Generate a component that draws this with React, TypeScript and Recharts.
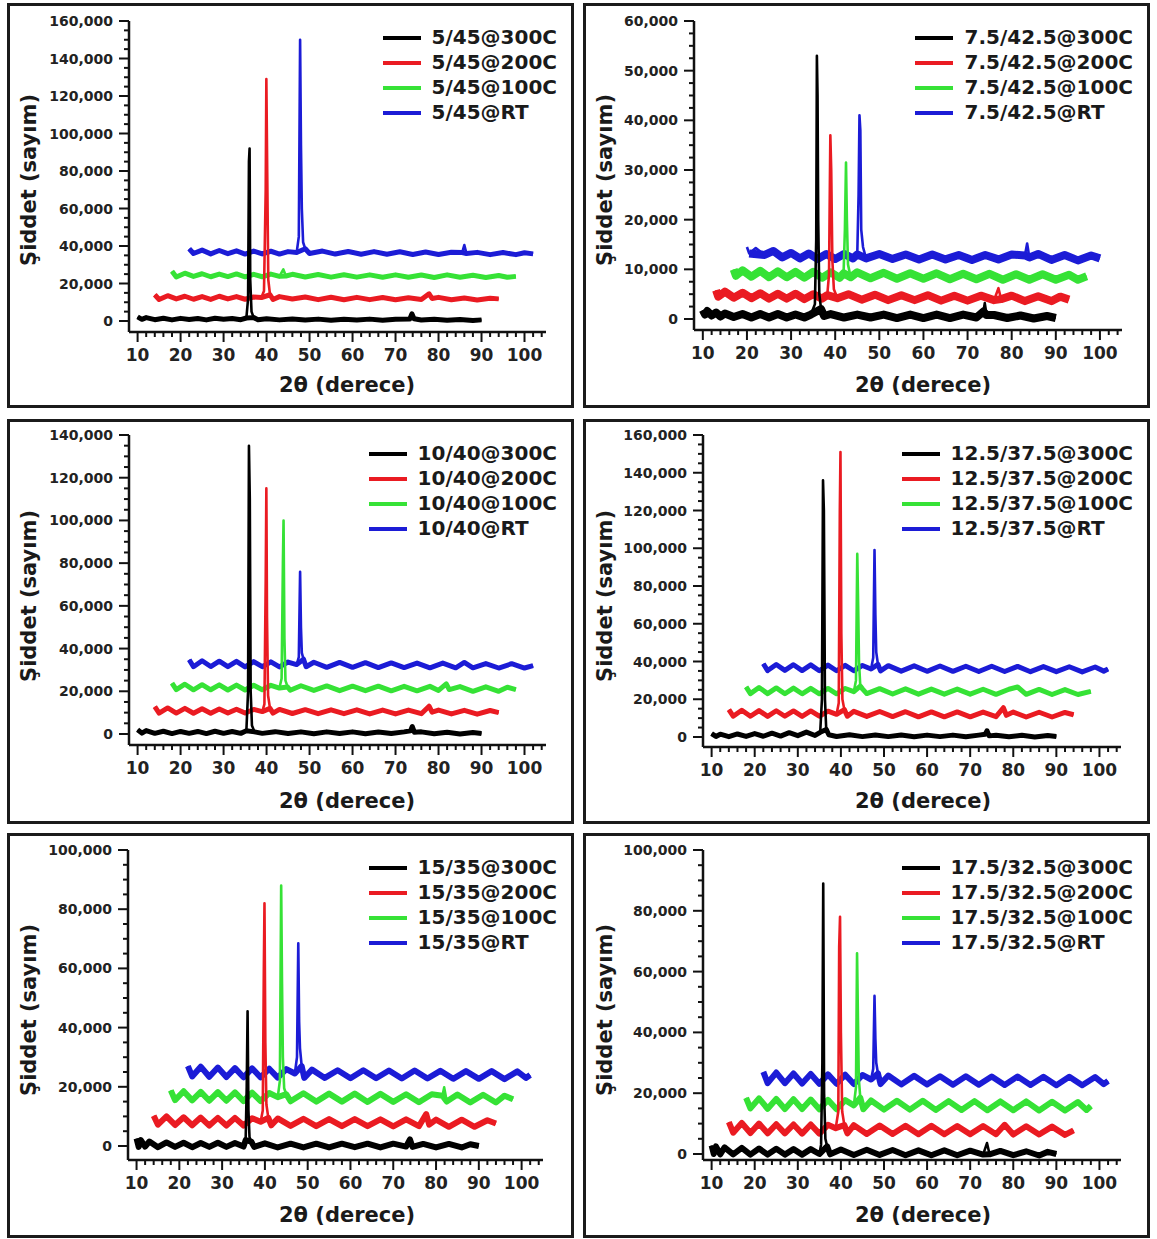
import React from 'react';
import { LineChart, Line, XAxis, YAxis } from 'recharts';

type Pt = [number, number];

// ---- 5/45 ----
const p1_300: Pt[] = [[10,2200],[11,900],[12,1800],[14,700],[16,1500],[18,600],[20,1400],[22,800],[24,1300],[26,600],[28,1500],[30,900],[32,1300],[34,700],[35.3,1600],[35.7,12000],[35.9,85000],[36.05,92000],[36.2,22000],[36.5,5000],[37,1800],[38,700],[40,1200],[43,600],[46,1100],[49,500],[52,1000],[55,400],[58,900],[61,500],[64,1000],[67,400],[70,900],[73.3,1000],[73.8,3800],[74.3,1200],[76,500],[79,900],[82,400],[85,800],[88,300],[90,600]];
const p1_200: Pt[] = [[14,14000],[15,11500],[17,13500],[19,11800],[21,13200],[23,11600],[25,13000],[27,11500],[29,13200],[31,11800],[33,13000],[35,11600],[37,12800],[38.8,12500],[39.4,16000],[39.8,70000],[39.95,129000],[40.15,80000],[40.4,22000],[40.8,14000],[41.5,11500],[43,13000],[46,11700],[49,12800],[52,11400],[55,12700],[58,11300],[61,12600],[64,11400],[67,12500],[70,11300],[73,12400],[76,11500],[77.8,14500],[78.5,12000],[80,12600],[83,11300],[86,12300],[89,11200],[92,12100],[94,11800]];
const p1_100: Pt[] = [[18,26500],[19,23500],[21,25500],[23,23800],[25,25200],[27,23600],[29,25000],[31,23700],[33,25100],[35,23500],[37,24900],[39,23600],[41,25000],[43,23800],[43.9,27500],[44.5,24000],[46,24900],[49,23500],[52,24800],[55,23400],[58,24700],[61,23400],[64,24600],[67,23300],[70,24600],[73,23300],[76,24500],[79,23200],[82,24600],[85,23300],[88,24400],[91,23200],[94,24300],[96,23300],[98,23800]];
const p1_rt: Pt[] = [[22,38500],[23,36000],[25,37800],[27,35800],[29,37600],[31,35900],[33,37400],[35,35700],[37,37300],[39,35800],[41,37200],[43,35700],[45,37000],[47,36500],[47.5,45000],[47.8,150000],[48.0,94000],[48.2,60000],[48.5,42000],[49,38500],[50,36000],[53,37300],[56,35700],[59,37100],[62,35600],[65,37000],[68,35600],[71,36900],[74,35500],[77,36800],[80,35500],[83,36700],[85.5,36500],[86,40500],[86.5,36000],[89,36600],[92,35400],[95,36500],[98,35400],[100,36400],[102,35800]];

// ---- 7.5/42.5 ----
const p2_300: Pt[] = [[10,1800],[10.5,900],[11,1600],[12,700],[13,1300],[14,500],[15,1100],[17,400],[19,1000],[21,300],[23,1000],[25,300],[27,1000],[29,300],[31,900],[33,300],[34.5,900],[35.4,3000],[35.7,16000],[35.85,53000],[36.0,45000],[36.15,20000],[36.4,5000],[36.8,2000],[37.5,600],[39,1000],[42,300],[45,900],[48,300],[51,900],[54,200],[57,900],[60,200],[63,900],[66,200],[69,900],[72,300],[73.6,1500],[73.9,3200],[74.3,800],[76,800],[79,200],[82,700],[85,100],[88,600],[90,200]];
const p2_200: Pt[] = [[13,5800],[13.5,4500],[15,5500],[17,4300],[19,5300],[21,4200],[23,5200],[25,4100],[27,5100],[29,4100],[31,5100],[33,4000],[35,5000],[37,4100],[38.2,4800],[38.6,9000],[38.9,37000],[39.1,30000],[39.35,12000],[39.7,6000],[40.5,4200],[43,5000],[46,3900],[49,4900],[52,3800],[55,4800],[58,3800],[61,4800],[64,3700],[67,4700],[70,3700],[73,4700],[76,3800],[77,6200],[77.6,4000],[80,4700],[83,3600],[86,4600],[89,3600],[91,4500],[93,3900]];
const p2_100: Pt[] = [[17,10000],[17.5,8700],[19,9800],[21,8500],[23,9700],[25,8400],[27,9600],[29,8400],[31,9500],[33,8300],[35,9500],[37,8300],[39,9400],[41,8300],[41.9,9200],[42.2,18000],[42.45,31500],[42.65,20000],[42.9,11000],[43.5,8400],[45,9400],[48,8200],[51,9300],[54,8100],[57,9200],[60,8100],[63,9200],[66,8000],[69,9100],[72,8000],[75,9100],[78,7900],[81,9000],[84,7900],[87,9000],[90,7900],[93,8900],[95,7900],[97,8600]];
const p2_rt: Pt[] = [[20,14500],[20.5,13200],[22,14300],[24,12900],[26,13700],[28,12400],[30,13300],[32,12200],[34,13200],[36,12100],[38,13100],[40,12100],[42,13100],[44,12200],[45,13000],[45.3,25000],[45.5,41000],[45.7,38000],[45.9,18000],[46.3,14500],[47,12200],[50,13100],[53,12100],[56,13000],[59,12000],[62,13000],[65,12000],[68,12900],[71,11900],[74,12900],[77,12000],[80,13000],[83,12800],[83.5,15200],[84,12400],[86,13100],[89,11900],[92,12900],[95,11800],[98,12800],[100,12200]];

// ---- 10/40 ----
const p3_300: Pt[] = [[10,2000],[11,400],[12,1600],[14,300],[16,1300],[18,200],[20,1200],[22,300],[24,1200],[26,200],[28,1300],[30,300],[32,1200],[34,300],[35.3,1500],[35.7,20000],[35.9,135000],[36.1,110000],[36.3,20000],[36.6,4000],[37.2,1000],[39,300],[42,1100],[45,200],[48,1000],[51,100],[54,1000],[57,200],[60,1000],[63,100],[66,900],[69,200],[72,1000],[73.5,1500],[73.9,3500],[74.4,800],[76,1000],[79,100],[82,800],[85,0],[88,700],[90,200]];
const p3_200: Pt[] = [[14,12800],[15,9800],[17,12200],[19,9800],[21,12000],[23,9700],[25,11800],[27,9700],[29,11700],[31,9800],[33,11600],[35,9800],[37,11500],[39,10500],[39.5,14000],[39.8,72000],[39.95,115000],[40.1,55000],[40.35,18000],[40.8,12000],[41.5,9800],[43,11500],[46,9600],[49,11400],[52,9500],[55,11300],[58,9500],[61,11300],[64,9400],[67,11200],[70,9400],[73,11200],[76,9500],[77.8,13000],[78.5,10200],[80,11200],[83,9400],[86,11100],[89,9300],[92,11000],[94,10000]];
const p3_100: Pt[] = [[18,23800],[19,20800],[21,23300],[23,20700],[25,23100],[27,20700],[29,23000],[31,20600],[33,22900],[35,20600],[37,22800],[39,20700],[41,22800],[43,21500],[43.5,26000],[43.8,80000],[43.95,100000],[44.15,45000],[44.4,25000],[44.9,22000],[45.5,20500],[48,22600],[51,20400],[54,22500],[57,20300],[60,22400],[63,20300],[66,22400],[69,20200],[72,22300],[75,20200],[78,22300],[80,20400],[81.8,23500],[82.5,20800],[85,22200],[88,20000],[91,22100],[94,20000],[96,21900],[98,20800]];
const p3_rt: Pt[] = [[22,34800],[23,31500],[25,34300],[27,31600],[29,34100],[31,31500],[33,34000],[35,31400],[37,33900],[39,31500],[41,33800],[43,31400],[45,33700],[47,32500],[47.5,36000],[47.8,76000],[48.0,50000],[48.2,38000],[48.6,35000],[49.2,31500],[51,33600],[54,31200],[57,33500],[60,31200],[63,33400],[66,31100],[69,33300],[72,31100],[75,33200],[78,31000],[81,33200],[84,31000],[86,33500],[88,31000],[91,33000],[94,30900],[97,32900],[100,30900],[102,32000]];

// ---- 12.5/37.5 ----
const p4_300: Pt[] = [[10,1800],[11,300],[12,1500],[14,200],[16,1600],[18,300],[20,1800],[22,400],[24,2000],[26,500],[28,2300],[30,700],[32,2600],[34,800],[35.2,2500],[35.6,20000],[35.85,136000],[36.05,120000],[36.3,20000],[36.6,4000],[37.2,1200],[39,300],[42,1200],[45,200],[48,1100],[51,200],[54,1100],[57,100],[60,1000],[63,200],[66,1000],[69,100],[72,1000],[73.5,1500],[73.9,3300],[74.4,600],[76,900],[79,100],[82,900],[85,0],[88,800],[90,300]];
const p4_200: Pt[] = [[14,14500],[15,11000],[17,14200],[19,11000],[21,14000],[23,10900],[25,13900],[27,11000],[29,13800],[31,10900],[33,13800],[35,11000],[37,13700],[39,12000],[39.5,18000],[39.75,120000],[39.9,151000],[40.1,55000],[40.35,20000],[40.8,14500],[41.5,11000],[43,13600],[46,10900],[49,13500],[52,10800],[55,13400],[58,10700],[61,13300],[64,10700],[67,13300],[70,10700],[73,13200],[76,10800],[77.7,15500],[78.4,11500],[80,13200],[83,10600],[86,13100],[89,10600],[92,13000],[94,11800]];
const p4_100: Pt[] = [[18,26500],[19,23000],[21,26200],[23,23000],[25,26000],[27,22900],[29,25900],[31,22900],[33,25800],[35,22900],[37,25700],[39,22900],[41,25700],[43,24000],[43.5,30000],[43.8,97000],[44.0,70000],[44.2,40000],[44.5,27000],[45,25500],[46,23000],[49,25600],[52,22800],[55,25500],[58,22700],[61,25400],[64,22700],[67,25400],[70,22700],[73,25300],[76,22600],[79,25300],[81,26500],[83,22600],[86,25200],[89,22500],[92,25100],[95,22500],[98,24200]];
const p4_rt: Pt[] = [[22,38800],[23,35200],[25,38400],[27,35300],[29,38300],[31,35200],[33,38200],[35,35100],[37,38100],[39,35100],[41,38000],[43,35100],[45,37900],[47,36000],[47.5,42000],[47.8,99000],[48.0,65000],[48.2,45000],[48.6,38500],[49.2,35000],[51,37800],[54,34900],[57,37700],[60,34800],[63,37600],[66,34800],[69,37500],[72,34700],[75,37500],[78,34700],[81,37400],[84,34600],[87,37300],[90,34600],[93,37200],[96,34500],[99,37100],[101,34900],[102,36000]];

// ---- 15/35 ----
const p5_300: Pt[] = [[10,2500],[10.5,-300],[11,2000],[12,-200],[13,1500],[15,-400],[17,1200],[19,-300],[21,1100],[23,-400],[25,1000],[27,-300],[29,1100],[31,-300],[33,1000],[35,-200],[35.5,2000],[35.75,20000],[35.95,45500],[36.15,12000],[36.4,3000],[36.8,1500],[37.5,-300],[40,900],[43,-500],[46,800],[49,-500],[52,800],[55,-500],[58,800],[61,-400],[64,800],[67,-500],[70,800],[73,-200],[73.9,2200],[74.5,-300],[77,700],[80,-500],[83,700],[86,-500],[88,600],[90,0]];
const p5_200: Pt[] = [[14,10200],[15,7200],[17,10000],[19,7100],[21,9700],[23,7000],[25,9600],[27,6900],[29,9500],[31,6900],[33,9500],[35,6900],[37,9400],[39,8200],[39.5,12000],[39.75,60000],[39.9,82000],[40.1,35000],[40.35,14000],[40.8,9500],[41.5,7000],[43,9300],[46,6800],[49,9200],[52,6700],[55,9100],[58,6700],[61,9100],[64,6700],[67,9000],[70,6600],[73,9000],[76,6700],[77.7,10800],[78.4,7200],[80,8900],[83,6500],[86,8900],[89,6500],[92,8700],[94,7600]];
const p5_100: Pt[] = [[18,18800],[19,15500],[21,18500],[23,15400],[25,18300],[27,15300],[29,18200],[31,15300],[33,18100],[35,15200],[37,18000],[39,15200],[41,17900],[43,16500],[43.5,22000],[43.8,88000],[44.0,55000],[44.2,30000],[44.5,19500],[45,17500],[46,15100],[49,17800],[52,15000],[55,17700],[58,15000],[61,17700],[64,14900],[67,17600],[70,14900],[73,17500],[76,14800],[79,17500],[81.5,17000],[81.9,19800],[82.5,15000],[85,17400],[88,14700],[91,17300],[94,14700],[96,17000],[98,15800]];
const p5_rt: Pt[] = [[22,27000],[23,23500],[25,26800],[27,23400],[29,26500],[31,23300],[33,26300],[35,23200],[37,26200],[39,23200],[41,26100],[43,23100],[45,26000],[47,24500],[47.5,30000],[47.8,68500],[48.0,42000],[48.2,33000],[48.6,27000],[49.2,23000],[51,25800],[54,23000],[57,25600],[60,22900],[63,25600],[66,22900],[69,25500],[72,22800],[75,25500],[78,22800],[81,25400],[84,22700],[87,25300],[90,22700],[93,25300],[96,22600],[99,25200],[101,23000],[102,24000]];

// ---- 17.5/32.5 ----
const p6_300: Pt[] = [[10,2800],[10.5,0],[11,2500],[12,-100],[13,2200],[15,-100],[17,2000],[19,-200],[21,1800],[23,-200],[25,1700],[27,-200],[29,1600],[31,-200],[33,1600],[35,0],[35.4,3000],[35.7,30000],[35.9,89000],[36.1,20000],[36.4,5000],[36.8,2500],[37.5,-100],[40,1500],[43,-300],[46,1400],[49,-300],[52,1300],[55,-400],[58,1200],[61,-400],[64,1200],[67,-400],[70,1100],[73,-200],[73.9,3600],[74.5,-100],[77,1000],[80,-400],[83,900],[86,-500],[88,700],[90,0]];
const p6_200: Pt[] = [[14,10500],[15,7000],[17,10200],[19,6900],[21,10000],[23,6800],[25,9800],[27,6800],[29,9700],[31,6700],[33,9700],[35,6700],[37,9600],[38.8,8500],[39.4,14000],[39.6,68000],[39.8,78000],[40.0,40000],[40.3,14000],[40.8,9500],[41.5,6800],[43,9500],[46,6600],[49,9400],[52,6600],[55,9300],[58,6500],[61,9300],[64,6500],[67,9200],[70,6500],[73,9200],[76,6500],[78,9600],[80,6400],[83,9100],[86,6400],[89,9000],[92,6300],[94,7800]];
const p6_100: Pt[] = [[18,18500],[19,15000],[21,18300],[23,14900],[25,18100],[27,14800],[29,18000],[31,14800],[33,17900],[35,14700],[37,17800],[39,14700],[41,17700],[43,16000],[43.5,22000],[43.75,66000],[43.95,45000],[44.15,25000],[44.5,18500],[45.2,14700],[47,17600],[50,14600],[53,17500],[56,14600],[59,17500],[62,14500],[65,17400],[68,14500],[71,17400],[74,14400],[77,17300],[80,14400],[83,17300],[86,14300],[89,17200],[92,14300],[95,17100],[97,14500],[98,15800]];
const p6_rt: Pt[] = [[22,27000],[23,23300],[25,26800],[27,23300],[29,26500],[31,23200],[33,26300],[35,23100],[37,26200],[39,23100],[41,26100],[43,23000],[45,26000],[47,24500],[47.5,28000],[47.8,52000],[48.0,38000],[48.2,30000],[48.6,26500],[49.2,23000],[51,25800],[54,22900],[57,25700],[60,22900],[63,25600],[66,22800],[69,25600],[72,22800],[75,25500],[78,22700],[81,25500],[84,22700],[87,25400],[90,22600],[93,25400],[96,22600],[99,25300],[101,23000],[102,24000]];

// axis ticks
const xTicks = [10,12,14,16,18,20,22,24,26,28,30,32,34,36,38,40,42,44,46,48,50,52,54,56,58,60,62,64,66,68,70,72,74,76,78,80,82,84,86,88,90,92,94,96,98,100,102,104];
const yMajor160 = [0,20000,40000,60000,80000,100000,120000,140000,160000];
const yMajor140 = [0,20000,40000,60000,80000,100000,120000,140000];
const yMajor60 = [0,10000,20000,30000,40000,50000,60000];
const yMajor100 = [0,20000,40000,60000,80000,100000];

const sampleNames = ['5/45', '7.5/42.5', '10/40', '12.5/37.5', '15/35', '17.5/32.5'];
const conditions = ['@300C', '@200C', '@100C', '@RT'];
const colors = ['#000000', '#ea1b22', '#36e236', '#1c1cd6'];

const FONT = '"DejaVu Sans", Verdana, sans-serif';

interface PanelCfg {
  name: string;
  series: Pt[][];
  majors: number[];
  left: number;
  top: number;
  plotLeft: number;
  plotRight: number;
  plotTop: number;
  plotBottom: number;
  zeroY: number;
  band: number;
}

const panels: PanelCfg[] = [
  { name: sampleNames[0], series: [p1_300, p1_200, p1_100, p1_rt], majors: yMajor160, left: 7, top: 3, plotLeft: 129, plotRight: 546, plotTop: 21, plotBottom: 332, zeroY: 321, band: 5 },
  { name: sampleNames[1], series: [p2_300, p2_200, p2_100, p2_rt], majors: yMajor60, left: 583, top: 3, plotLeft: 694, plotRight: 1122, plotTop: 21, plotBottom: 330, zeroY: 319, band: 8 },
  { name: sampleNames[2], series: [p3_300, p3_200, p3_100, p3_rt], majors: yMajor140, left: 7, top: 419, plotLeft: 129, plotRight: 546, plotTop: 435, plotBottom: 745, zeroY: 734, band: 5 },
  { name: sampleNames[3], series: [p4_300, p4_200, p4_100, p4_rt], majors: yMajor160, left: 583, top: 419, plotLeft: 703, plotRight: 1121, plotTop: 435, plotBottom: 747, zeroY: 737, band: 5 },
  { name: sampleNames[4], series: [p5_300, p5_200, p5_100, p5_rt], majors: yMajor100, left: 7, top: 833, plotLeft: 128, plotRight: 543, plotTop: 850, plotBottom: 1160, zeroY: 1146, band: 6 },
  { name: sampleNames[5], series: [p6_300, p6_200, p6_100, p6_rt], majors: yMajor100, left: 583, top: 833, plotLeft: 703, plotRight: 1121, plotTop: 850, plotBottom: 1160, zeroY: 1154, band: 6 },
];

const PANEL_W = 567;
const PANEL_H = 405;
const BORDER = 3;
const Y_AXIS_W = 80;
const X_AXIS_H = 60;

// split each major interval into four for minor ticks
function withMinor(majors: number[]) {
  const out: number[] = [majors[0]];
  for (let i = 1; i < majors.length; i++) {
    const a = majors[i - 1];
    const d = (majors[i] - a) / 4;
    out.push(a + d, a + 2 * d, a + 3 * d, majors[i]);
  }
  return out;
}

// noisy baseline only (points near the median), drawn as a thick band under the trace
function baselineOnly(pts: Pt[], yMax: number) {
  const ys = pts.map((p) => p[1]).sort((a, b) => a - b);
  const med = ys[Math.floor(ys.length / 2)];
  return pts.filter((p) => p[1] < med + 0.02 * yMax).map(([x, y]) => ({ x, y }));
}

const XTick = (props: any) => {
  const { x, y, payload } = props;
  const v = payload.value as number;
  const major = v % 10 === 0;
  return (
    <g>
      <line x1={x} y1={y} x2={x} y2={y + (major ? 10 : 5)} stroke="#111" strokeWidth={2} />
      {major && v <= 100 && (
        <text x={x} y={y + 29} textAnchor="middle" fontSize={17} fontWeight="bold" fill="#222" fontFamily={FONT}>
          {v}
        </text>
      )}
    </g>
  );
};

function makeYTick(majors: number[]) {
  return (props: any) => {
    const { x, y, payload } = props;
    const v = payload.value as number;
    const major = majors.includes(v);
    return (
      <g>
        <line x1={x} y1={y} x2={x - (major ? 10 : 5)} y2={y} stroke="#111" strokeWidth={2} />
        {major && (
          <text x={x - 16} y={y + 5} textAnchor="end" fontSize={14} fontWeight="bold" fill="#222" fontFamily={FONT}>
            {v.toLocaleString('en-US')}
          </text>
        )}
      </g>
    );
  };
}

function Panel({ cfg }: { cfg: PanelCfg }) {
  const innerL = cfg.left + BORDER;
  const innerT = cfg.top + BORDER;
  const W = PANEL_W - 2 * BORDER;
  const H = PANEL_H - 2 * BORDER;
  const yMax = cfg.majors[cfg.majors.length - 1];
  const yMin = (-yMax * (cfg.plotBottom - cfg.zeroY)) / (cfg.zeroY - cfg.plotTop);
  const margin = {
    top: cfg.plotTop - innerT,
    right: innerL + W - cfg.plotRight,
    left: cfg.plotLeft - innerL - Y_AXIS_W,
    bottom: innerT + H - cfg.plotBottom - X_AXIS_H,
  };
  const order = [3, 2, 1, 0];

  return (
    <div
      style={{
        position: 'absolute',
        left: cfg.left,
        top: cfg.top,
        width: PANEL_W,
        height: PANEL_H,
        boxSizing: 'border-box',
        border: `${BORDER}px solid #1b1b1b`,
        background: '#fff',
        fontFamily: FONT,
      }}
    >
      <LineChart width={W} height={H} margin={margin}>
        <XAxis
          dataKey="x"
          type="number"
          domain={[8, 105]}
          allowDataOverflow
          ticks={xTicks}
          interval={0}
          tick={<XTick />}
          tickLine={false}
          tickSize={0}
          tickMargin={0}
          height={X_AXIS_H}
          axisLine={{ stroke: '#111', strokeWidth: 2.5 }}
        />
        <YAxis
          type="number"
          domain={[yMin, yMax]}
          allowDataOverflow
          ticks={withMinor(cfg.majors)}
          interval={0}
          tick={makeYTick(cfg.majors)}
          tickLine={false}
          tickSize={0}
          tickMargin={0}
          width={Y_AXIS_W}
          axisLine={{ stroke: '#111', strokeWidth: 2.5 }}
        />
        {order.flatMap((i) => [
          <Line
            key={`band-${i}`}
            data={baselineOnly(cfg.series[i], yMax)}
            dataKey="y"
            name={`${cfg.name + conditions[i]} band`}
            legendType="none"
            type="linear"
            stroke={colors[i]}
            strokeWidth={cfg.band}
            strokeLinejoin="round"
            dot={false}
            activeDot={false}
            isAnimationActive={false}
          />,
          <Line
            key={`line-${i}`}
            data={cfg.series[i].map(([x, y]) => ({ x, y }))}
            dataKey="y"
            name={cfg.name + conditions[i]}
            type="linear"
            stroke={colors[i]}
            strokeWidth={2.6}
            strokeLinejoin="round"
            dot={false}
            isAnimationActive={false}
          />,
        ])}
      </LineChart>

      {/* legend */}
      <div style={{ position: 'absolute', right: 14, top: 19 }}>
        {conditions.map((c, i) => (
          <div key={c} style={{ display: 'flex', alignItems: 'center', height: 25 }}>
            <div style={{ width: 38, height: 4, background: colors[i], marginRight: 11 }} />
            <span style={{ fontSize: 20, fontWeight: 'bold', color: '#1a1a1a', lineHeight: '25px', whiteSpace: 'nowrap' }}>
              {cfg.name + c}
            </span>
          </div>
        ))}
      </div>

      {/* axis titles */}
      <div
        style={{
          position: 'absolute',
          left: 19,
          top: 174,
          transform: 'translate(-50%, -50%) rotate(-90deg)',
          fontSize: 21,
          fontWeight: 'bold',
          color: '#1a1a1a',
          whiteSpace: 'nowrap',
        }}
      >
        Şiddet (sayım)
      </div>
      <div
        style={{
          position: 'absolute',
          left: 337,
          top: 379,
          transform: 'translate(-50%, -50%)',
          fontSize: 21,
          fontWeight: 'bold',
          color: '#1a1a1a',
          whiteSpace: 'nowrap',
        }}
      >
        2θ (derece)
      </div>
    </div>
  );
}

export default function App() {
  return (
    <div style={{ position: 'absolute', left: 0, top: 0, width: 1157, height: 1239, background: '#fff' }}>
      {panels.map((p) => (
        <Panel key={p.name} cfg={p} />
      ))}
    </div>
  );
}
